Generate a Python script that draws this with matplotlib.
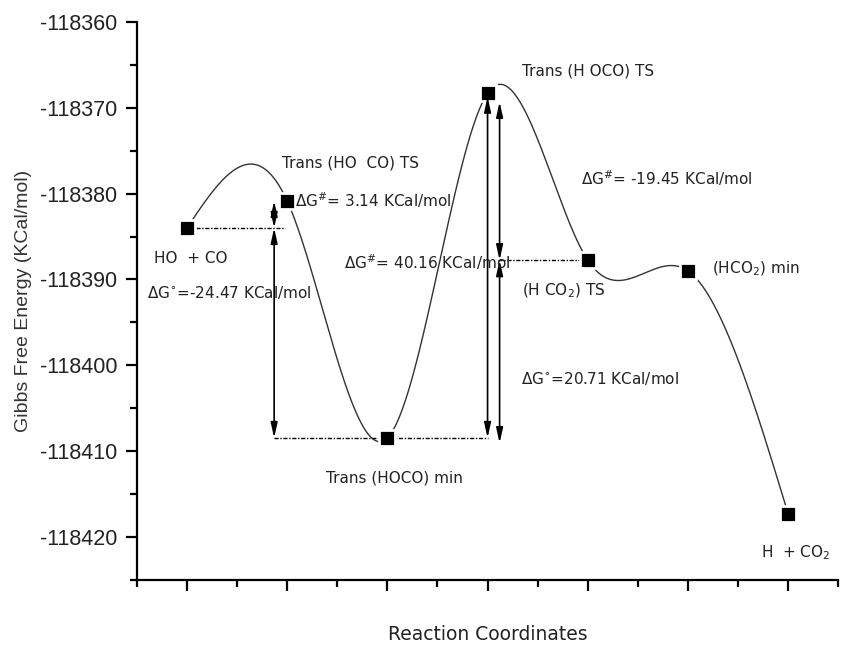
import numpy as np
import matplotlib.pyplot as plt
from matplotlib.ticker import MultipleLocator

plt.rcParams['axes.unicode_minus'] = False

# reaction coordinate steps and Gibbs free energies (KCal/mol)
steps = [1, 2, 3, 4, 5, 6, 7]
energy = [-118384.00, -118380.86, -118408.47, -118368.31, -118387.76, -118389.00, -118417.30]
y_ticks = [-118420, -118410, -118400, -118390, -118380, -118370, -118360]

# text labels: (text, x, y)
labels = [
    ("Trans (HO  CO) TS", 1.95, -118376.4),
    ("ΔG$^{\\#}$= 3.14 KCal/mol", 2.08, -118380.8),
    ("HO  + CO", 0.67, -118387.6),
    ("ΔG$^{\\circ}$=-24.47 KCal/mol", 0.60, -118391.5),
    ("ΔG$^{\\#}$= 40.16 KCal/mol", 2.57, -118388.0),
    ("Trans (HOCO) min", 2.39, -118413.1),
    ("Trans (H OCO) TS", 4.34, -118365.7),
    ("ΔG$^{\\#}$= -19.45 KCal/mol", 4.93, -118378.2),
    ("(H CO$_2$) TS", 4.34, -118391.3),
    ("(HCO$_2$) min", 6.24, -118388.8),
    ("ΔG$^{\\circ}$=20.71 KCal/mol", 4.33, -118401.5),
    ("H  + CO$_2$", 6.73, -118421.8),
]


def natural_spline(x, y, n=400):
    # natural cubic spline through the points, like the origin line connection
    x = np.asarray(x, float)
    y = np.asarray(y, float)
    k = len(x)
    h = np.diff(x)
    A = np.zeros((k, k))
    b = np.zeros(k)
    A[0, 0] = 1
    A[-1, -1] = 1
    for i in range(1, k - 1):
        A[i, i - 1] = h[i - 1]
        A[i, i] = 2 * (h[i - 1] + h[i])
        A[i, i + 1] = h[i]
        b[i] = 3 * ((y[i + 1] - y[i]) / h[i] - (y[i] - y[i - 1]) / h[i - 1])
    c = np.linalg.solve(A, b)
    xs = np.linspace(x[0], x[-1], n)
    ys = np.empty_like(xs)
    for j, xv in enumerate(xs):
        i = min(np.searchsorted(x, xv, side="right") - 1, k - 2)
        d = xv - x[i]
        bi = (y[i + 1] - y[i]) / h[i] - h[i] * (2 * c[i] + c[i + 1]) / 3
        di = (c[i + 1] - c[i]) / (3 * h[i])
        ys[j] = y[i] + bi * d + c[i] * d ** 2 + di * d ** 3
    return xs, ys


fig = plt.figure(figsize=(8.45, 6.45), dpi=100)
ax = fig.add_axes([0.162, 0.101, 0.830, 0.865])

xs, ys = natural_spline(steps, energy)
ax.plot(xs, ys, color="#333333", lw=1.0, zorder=2)
# white edge leaves a small gap between the curve and the squares
ax.plot(steps, energy, "s", color="black", markersize=11, markeredgecolor="white",
        markeredgewidth=2, zorder=3)

# dotted reference levels
dot = (0, (3, 1.2, 1, 1.2))
ax.plot([steps[0], 1.98], [energy[0], energy[0]], color="black", lw=1, linestyle=dot)
ax.plot([1.87, 4.0], [energy[2], energy[2]], color="black", lw=1, linestyle=dot)
ax.plot([4.1, steps[4]], [energy[4], energy[4]], color="black", lw=1, linestyle=dot)

# double headed energy arrows
arrows = [
    (1.87, energy[0], energy[1]),
    (1.87, energy[0], energy[2]),
    (4.0, energy[2], energy[3] - 0.4),
    (4.12, energy[4], energy[3] - 1.0),
    (4.12, energy[4], energy[2] - 0.6),
]
for ax_x, y0, y1 in arrows:
    ax.annotate("", xy=(ax_x, y1), xytext=(ax_x, y0),
                arrowprops=dict(arrowstyle="<|-|>,head_length=0.9,head_width=0.2",
                                color="black", lw=1.2, shrinkA=0, shrinkB=0))

for txt, tx, ty in labels:
    ax.text(tx, ty, txt, fontsize=11, color="#222222", ha="left", va="center",
            family="DejaVu Sans")

ax.set_xlim(0.5, 7.5)
ax.set_ylim(-118425, -118360)
ax.xaxis.set_major_locator(MultipleLocator(1))
ax.xaxis.set_minor_locator(MultipleLocator(0.5))
ax.set_yticks(y_ticks)
ax.yaxis.set_minor_locator(MultipleLocator(5))
ax.set_xticklabels([])
ax.ticklabel_format(axis="y", useOffset=False, style="plain")

for side in ["top", "right"]:
    ax.spines[side].set_visible(False)
for side in ["left", "bottom"]:
    ax.spines[side].set_linewidth(1.6)
ax.tick_params(which="major", direction="out", length=8, width=1.6)
ax.tick_params(axis="y", which="major", pad=6)
ax.tick_params(which="minor", direction="out", length=5, width=1.6)
for lab in ax.get_yticklabels():
    lab.set_family("Liberation Sans")
    lab.set_fontsize(15.5)
    lab.set_color("#222222")

ax.set_ylabel("Gibbs Free Energy (KCal/mol)", fontsize=14, family="Liberation Sans",
              color="#333333", labelpad=6)
ax.set_xlabel("Reaction Coordinates", fontsize=13.5, family="DejaVu Sans",
              color="#222222", labelpad=21)

plt.savefig("out.png", dpi=100)
